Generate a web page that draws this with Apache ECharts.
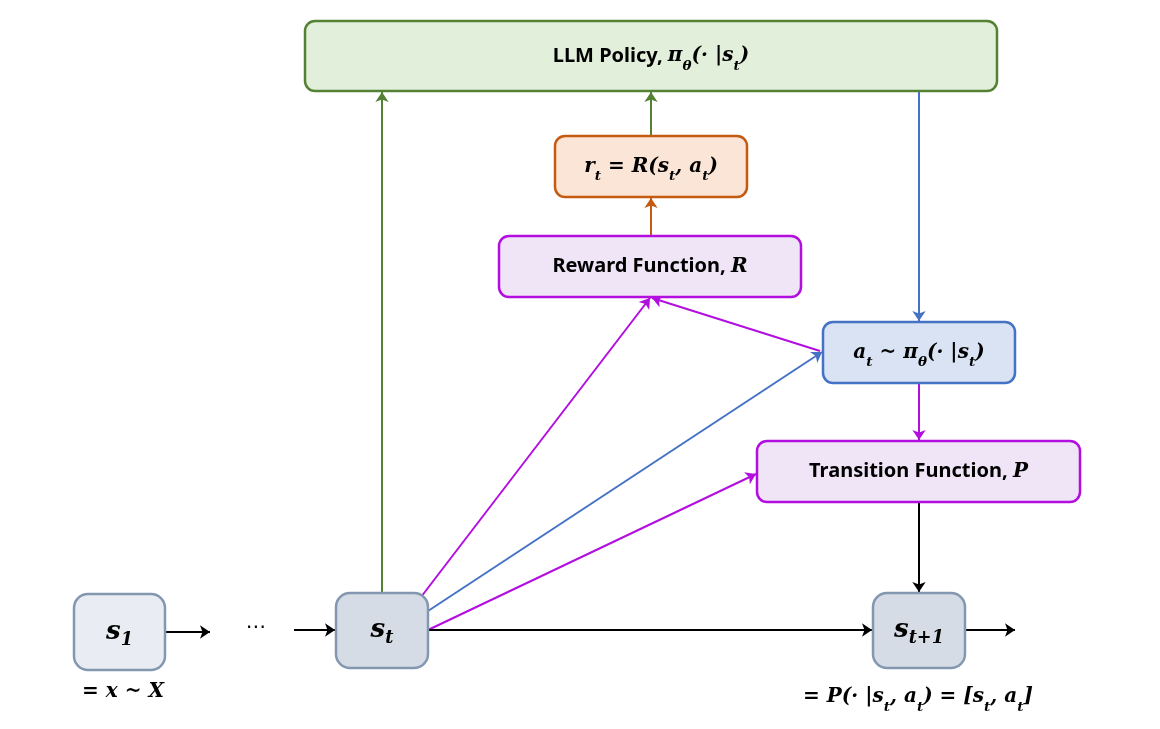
<!DOCTYPE html>
<html>
<head>
<meta charset="utf-8">
<script src="https://cdn.jsdelivr.net/npm/echarts@6/dist/echarts.min.js"></script>
<style>html,body{margin:0;padding:0;background:#fff}#main{width:1160px;height:729px}</style>
</head>
<body>
<div id="main"></div>
<script>
// boxes: [x0, y0, x1, y1, kind, label]
const boxes = [
  [305, 21, 997, 91, 'green', '{t|LLM Policy, }{m|π}{s|θ}{m|(· |s}{s|t}{m|)}'],
  [555, 136, 747, 197, 'orange', '{m|r}{s|t}{m| = R(s}{s|t}{m|, a}{s|t}{m|)}'],
  [499, 236, 801, 297, 'purple', '{t|Reward Function, }{m|R}'],
  [823, 322, 1015, 383, 'blue', '{m|a}{s|t}{m| ~ π}{s|θ}{m|(· |s}{s|t}{m|)}'],
  [757, 441, 1080, 502, 'purple', '{t|Transition Function, }{m|P}'],
  [74, 594, 165, 670, 'state1', '{m|s}{s|1}'],
  [336, 593, 428, 668, 'state', '{m|s}{s|t}'],
  [873, 593, 965, 668, 'state', '{m|s}{s|t+1}']
];
// arrows: [x0, y0, x1, y1, kind]
const arrows = [
  [382, 593, 382, 92, 'green'],
  [651, 136, 651, 92, 'green'],
  [651, 236, 651, 198, 'orange'],
  [919, 91, 919, 321, 'blue'],
  [919, 383, 919, 440, 'purple'],
  [919, 502, 919, 592, 'black'],
  [820, 351, 652, 298, 'purple'],
  [421, 597, 650, 298, 'purple'],
  [428, 611, 822, 352, 'blue'],
  [428, 630, 756, 474, 'purple'],
  [428, 630, 872, 630, 'black'],
  [165, 632, 210, 632, 'black'],
  [294, 630, 335, 630, 'black'],
  [965, 630, 1015, 630, 'black']
];
// free labels: [x, y, label]
const notes = [
  [256, 628, '{d|⋯}'],
  [123, 692, '{m|= x ~ X}'],
  [918, 697, '{m|= P(· |s}{s|t}{m|, a}{s|t}{m|) = [s}{s|t}{m|, a}{s|t}{m|]}']
];

const styles = {
  green: {fill: '#e2efda', stroke: '#548235', text: '#375623', line: '#548235'},
  orange: {fill: '#fbe5d6', stroke: '#c55a11', text: '#843c0c', line: '#c55a11'},
  purple: {fill: '#f0e4f7', stroke: '#b30ee0', text: '#7030a0', line: '#b30ee0'},
  blue: {fill: '#dae3f3', stroke: '#4472c4', text: '#2f5597', line: '#4472c4'},
  state1: {fill: '#e9edf3', stroke: '#8497b0', text: '#44546a'},
  state: {fill: '#d6dce5', stroke: '#8497b0', text: '#44546a'},
  black: {line: '#000'}
};

function rich(color, big) {
  const f = big ? 26 : 20;
  return {
    t: {fontFamily: 'Noto Sans', fontWeight: 'bold', fontSize: 20, color: color, lineHeight: 34, verticalAlign: 'middle'},
    m: {fontFamily: 'DejaVu Serif', fontStyle: 'italic', fontWeight: 'bold', fontSize: f, color: color, lineHeight: 34, verticalAlign: 'middle'},
    s: {fontFamily: 'DejaVu Serif', fontStyle: 'italic', fontWeight: 'bold', fontSize: f * 0.68, color: color, lineHeight: 34, verticalAlign: 'bottom'},
    d: {fontFamily: 'DejaVu Sans', fontSize: 20, color: color}
  };
}

const chart = echarts.init(document.getElementById('main'));
chart.setOption({
  animation: false,
  grid: {left: 0, right: 0, top: 0, bottom: 0},
  xAxis: {type: 'value', min: 0, max: 1160, show: false},
  yAxis: {type: 'value', min: 0, max: 729, inverse: true, show: false},
  series: [
    {
      type: 'lines',
      coordinateSystem: 'cartesian2d',
      polyline: false,
      symbol: ['none', 'arrow'],
      symbolSize: 10,
      z: 1,
      data: arrows.map(a => ({
        coords: [[a[0], a[1]], [a[2], a[3]]],
        lineStyle: {color: styles[a[4]].line, width: 2, opacity: 1}
      }))
    },
    {
      type: 'custom',
      z: 2,
      data: boxes.map(b => b.slice(0, 4)),
      renderItem: function (params, api) {
        const b = boxes[params.dataIndex];
        const st = styles[b[4]];
        const p0 = api.coord([b[0], b[1]]);
        const p1 = api.coord([b[2], b[3]]);
        const isState = b[4].indexOf('state') === 0;
        return {
          type: 'group',
          children: [
            {type: 'rect', shape: {x: p0[0], y: p0[1], width: p1[0] - p0[0], height: p1[1] - p0[1], r: isState ? 14 : 10},
             style: {fill: st.fill, stroke: st.stroke, lineWidth: 2.5}},
            {type: 'text', x: (p0[0] + p1[0]) / 2, y: (p0[1] + p1[1]) / 2,
             style: {text: b[5], align: 'center', verticalAlign: 'middle', rich: rich(st.text, isState)}}
          ]
        };
      }
    },
    {
      type: 'custom',
      z: 3,
      data: notes.map(n => n.slice(0, 2)),
      renderItem: function (params, api) {
        const n = notes[params.dataIndex];
        const p = api.coord([n[0], n[1]]);
        return {type: 'text', x: p[0], y: p[1],
          style: {text: n[2], align: 'center', verticalAlign: 'middle', rich: rich('#000', false)}};
      }
    }
  ]
});
</script>
</body>
</html>
